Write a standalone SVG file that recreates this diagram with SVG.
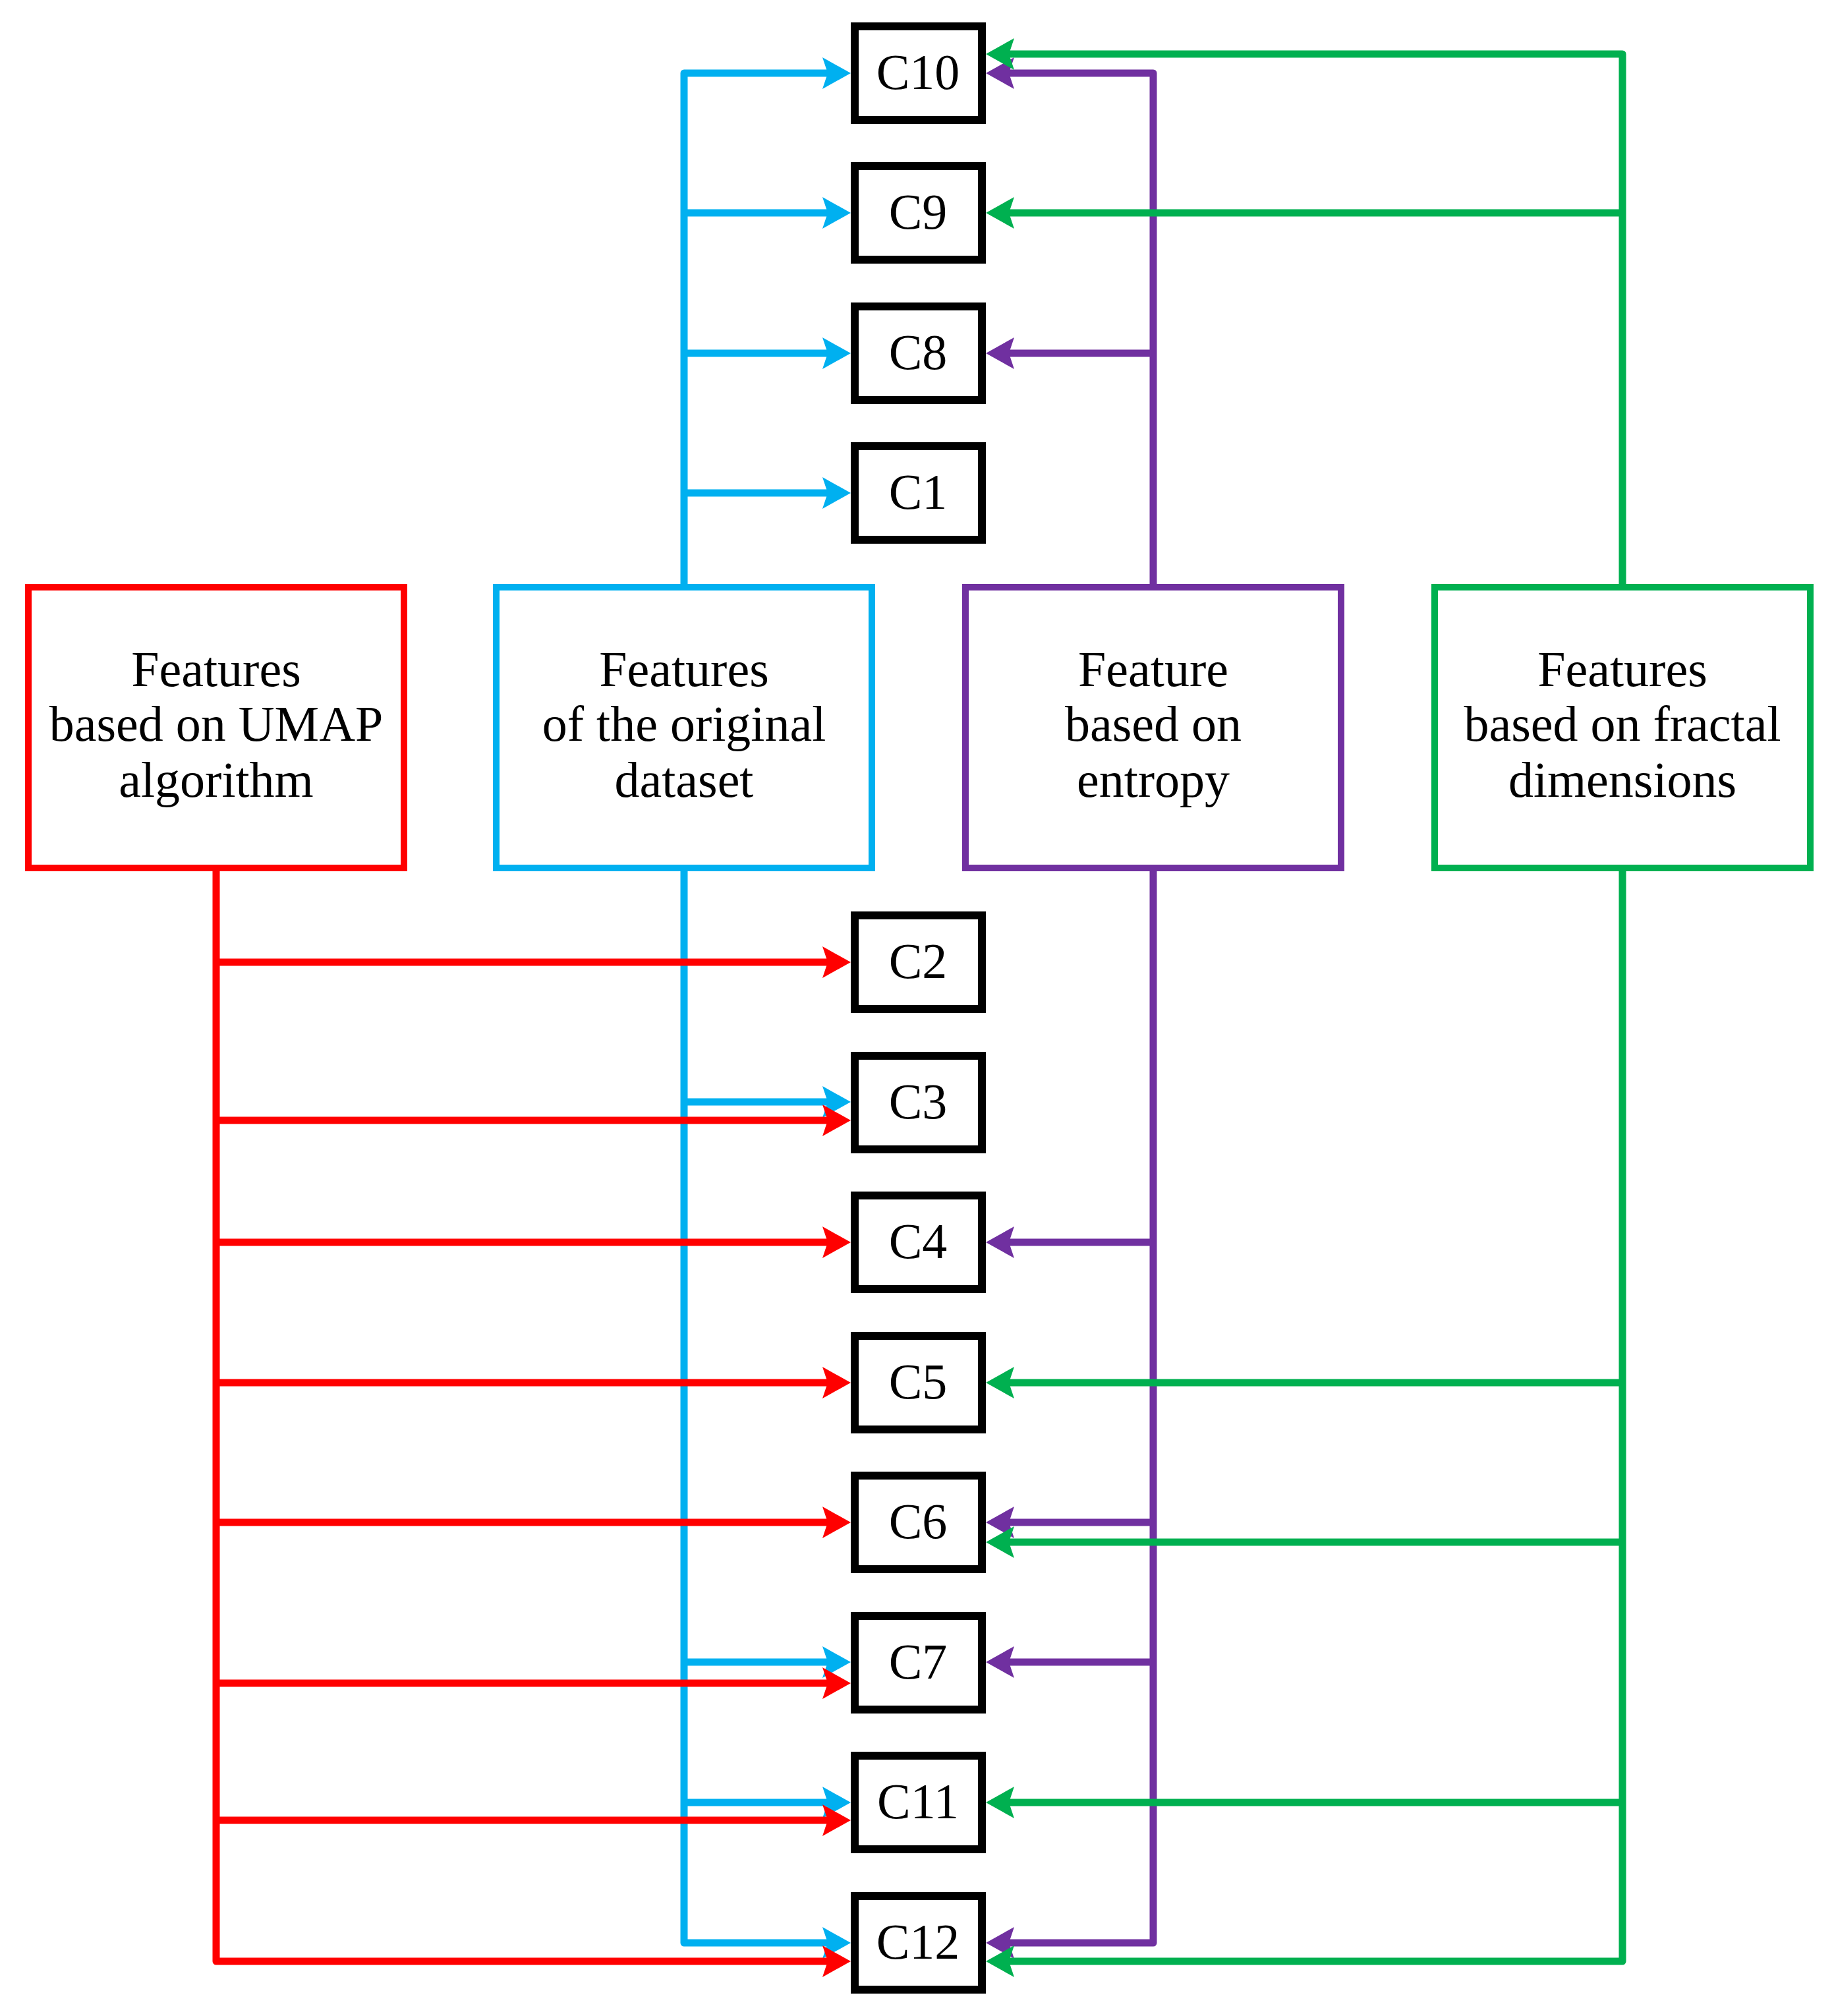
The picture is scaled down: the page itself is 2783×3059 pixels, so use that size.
<svg xmlns="http://www.w3.org/2000/svg" width="2783" height="3059" viewBox="0 0 2783 3059">
<style>
.c{fill:#fff;stroke:#000;stroke-width:12}
.f{fill:#fff;stroke-width:10}
text{font-family:"Liberation Serif",serif;font-size:76px;text-anchor:middle;fill:#000}
.w{fill:none;stroke-width:11;stroke-linejoin:round}
</style>
<defs>
<marker id="ar" viewBox="0 0 43 48" markerWidth="43" markerHeight="48" markerUnits="userSpaceOnUse" refX="18" refY="24" orient="auto"><path d="M0,0L43,24L0,48L8,24Z" fill="#FF0000"/></marker>
<marker id="ab" viewBox="0 0 43 48" markerWidth="43" markerHeight="48" markerUnits="userSpaceOnUse" refX="18" refY="24" orient="auto"><path d="M0,0L43,24L0,48L8,24Z" fill="#00B0F0"/></marker>
<marker id="ap" viewBox="0 0 43 48" markerWidth="43" markerHeight="48" markerUnits="userSpaceOnUse" refX="18" refY="24" orient="auto"><path d="M0,0L43,24L0,48L8,24Z" fill="#7030A0"/></marker>
<marker id="ag" viewBox="0 0 43 48" markerWidth="43" markerHeight="48" markerUnits="userSpaceOnUse" refX="18" refY="24" orient="auto"><path d="M0,0L43,24L0,48L8,24Z" fill="#00B050"/></marker>
</defs>
<g id="connectors" class="w">
<g stroke="#00B0F0">
<path d="M1038,886V111H1266" marker-end="url(#ab)"/>
<path d="M1038,323H1266" marker-end="url(#ab)"/>
<path d="M1038,536H1266" marker-end="url(#ab)"/>
<path d="M1038,748H1266" marker-end="url(#ab)"/>
<path d="M1038,1322V2948H1266" marker-end="url(#ab)"/>
<path d="M1038,1672H1266" marker-end="url(#ab)"/>
<path d="M1038,2522H1266" marker-end="url(#ab)"/>
<path d="M1038,2735H1266" marker-end="url(#ab)"/>
</g>
<g stroke="#FF0000">
<path d="M328,1322V2976H1266" marker-end="url(#ar)"/>
<path d="M328,1460H1266" marker-end="url(#ar)"/>
<path d="M328,1700H1266" marker-end="url(#ar)"/>
<path d="M328,1885H1266" marker-end="url(#ar)"/>
<path d="M328,2098H1266" marker-end="url(#ar)"/>
<path d="M328,2310H1266" marker-end="url(#ar)"/>
<path d="M328,2554H1266" marker-end="url(#ar)"/>
<path d="M328,2762H1266" marker-end="url(#ar)"/>
</g>
<g stroke="#7030A0">
<path d="M1750,886V111H1521" marker-end="url(#ap)"/>
<path d="M1750,536H1521" marker-end="url(#ap)"/>
<path d="M1750,1322V2948H1521" marker-end="url(#ap)"/>
<path d="M1750,1885H1521" marker-end="url(#ap)"/>
<path d="M1750,2310H1521" marker-end="url(#ap)"/>
<path d="M1750,2522H1521" marker-end="url(#ap)"/>
</g>
<g stroke="#00B050">
<path d="M2462,886V82H1521" marker-end="url(#ag)"/>
<path d="M2462,323H1521" marker-end="url(#ag)"/>
<path d="M2462,1322V2976H1521" marker-end="url(#ag)"/>
<path d="M2462,2098H1521" marker-end="url(#ag)"/>
<path d="M2462,2340H1521" marker-end="url(#ag)"/>
<path d="M2462,2735H1521" marker-end="url(#ag)"/>
</g>
</g>
<g id="umap"><rect class="f" stroke="#FF0000" x="43" y="891" width="570" height="426"/><text x="328" y="1041">Features</text><text x="328" y="1124">based on UMAP</text><text x="328" y="1209">algorithm</text></g>
<g id="orig"><rect class="f" stroke="#00B0F0" x="753" y="891" width="570" height="426"/><text x="1038" y="1041">Features</text><text x="1038" y="1124">of the original</text><text x="1038" y="1209">dataset</text></g>
<g id="entropy"><rect class="f" stroke="#7030A0" x="1465" y="891" width="570" height="426"/><text x="1750" y="1041">Feature</text><text x="1750" y="1124">based on</text><text x="1750" y="1209">entropy</text></g>
<g id="fractal"><rect class="f" stroke="#00B050" x="2177" y="891" width="570" height="426"/><text x="2462" y="1041">Features</text><text x="2462" y="1124">based on fractal</text><text x="2462" y="1209">dimensions</text></g>
<g id="C10"><rect class="c" x="1297" y="40" width="193" height="142"/><text x="1393" y="135">C10</text></g>
<g id="C9"><rect class="c" x="1297" y="252" width="193" height="142"/><text x="1393" y="347">C9</text></g>
<g id="C8"><rect class="c" x="1297" y="465" width="193" height="142"/><text x="1393" y="560">C8</text></g>
<g id="C1"><rect class="c" x="1297" y="677" width="193" height="142"/><text x="1393" y="772">C1</text></g>
<g id="C2"><rect class="c" x="1297" y="1389" width="193" height="142"/><text x="1393" y="1484">C2</text></g>
<g id="C3"><rect class="c" x="1297" y="1602" width="193" height="142"/><text x="1393" y="1697">C3</text></g>
<g id="C4"><rect class="c" x="1297" y="1814" width="193" height="142"/><text x="1393" y="1909">C4</text></g>
<g id="C5"><rect class="c" x="1297" y="2027" width="193" height="142"/><text x="1393" y="2122">C5</text></g>
<g id="C6"><rect class="c" x="1297" y="2239" width="193" height="142"/><text x="1393" y="2334">C6</text></g>
<g id="C7"><rect class="c" x="1297" y="2452" width="193" height="142"/><text x="1393" y="2547">C7</text></g>
<g id="C11"><rect class="c" x="1297" y="2664" width="193" height="142"/><text x="1393" y="2759">C11</text></g>
<g id="C12"><rect class="c" x="1297" y="2877" width="193" height="142"/><text x="1393" y="2972">C12</text></g>
</svg>
